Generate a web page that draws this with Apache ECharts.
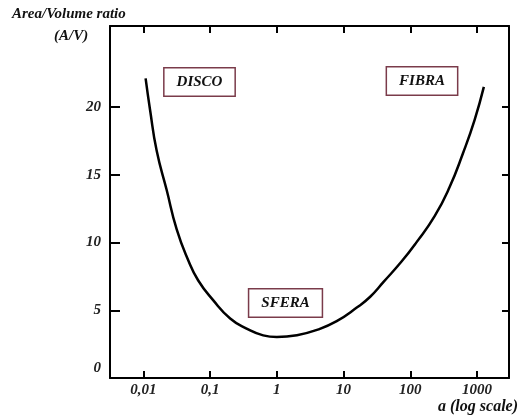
<!DOCTYPE html>
<html>
<head>
<meta charset="utf-8">
<script src="https://cdn.jsdelivr.net/npm/echarts@6/dist/echarts.min.js"></script>
<style>
  html, body { margin: 0; padding: 0; background: #fff; }
  #chart { width: 519px; height: 420px; }
</style>
</head>
<body>
<div id="chart"></div>
<script>
// aspect ratio a (log scale) and the area/volume ratio
const aValues = [0.0108, 0.0126, 0.0158, 0.0223, 0.0315, 0.047, 0.0664, 0.111, 0.2, 0.352, 0.624, 1,
  2.0, 4.0, 7.9, 15.8, 25.1, 39.8, 74, 123, 232, 389, 617, 920, 1268]
const ratioValues = [22.13, 19.8, 16.8, 13.9, 11.0, 8.7, 7.2, 5.75, 4.4, 3.65, 3.15, 3.03,
  3.16, 3.55, 4.2, 5.2, 6.0, 7.1, 8.6, 10.0, 11.95, 14.1, 16.6, 19.05, 21.5]
const xTicks = [0.01, 0.1, 1, 10, 100, 1000]
const xTickLabels = ['0,01', '0,1', '1', '10', '100', '1000']
const yTicks = [0, 5, 10, 15, 20]
const shapeLabels = ['DISCO', 'SFERA', 'FIBRA']

const font = 'Liberation Serif'
const xMin = 0.00316
const xMax = 3020
const chart = echarts.init(document.getElementById('chart'))

const axisLineStyle = { color: '#000', width: 2 }

const yAxisBase = {
  type: 'value',
  min: 0,
  max: 26,
  splitLine: { show: false },
  axisLine: { show: true, onZero: false, lineStyle: axisLineStyle },
  axisTick: { show: true, inside: true, customValues: yTicks.slice(1), lineStyle: axisLineStyle }
}

const boxStyle = {
  font: 'italic bold 15px "' + font + '"',
  fill: '#111',
  align: 'center',
  verticalAlign: 'middle',
  backgroundColor: '#fff',
  borderColor: '#7a3b4a',
  borderWidth: 1.5,
  padding: [6, 12, 6, 12]
}

const option = {
  animation: false,
  backgroundColor: '#fff',
  grid: { left: 110, right: 10, top: 26, bottom: 42 },
  xAxis: [
    {
      type: 'log',
      logBase: 10,
      min: xMin,
      max: xMax,
      position: 'bottom',
      splitLine: { show: false },
      axisLine: { show: true, onZero: false, lineStyle: axisLineStyle },
      axisTick: { show: true, inside: true, length: 7, customValues: xTicks, lineStyle: axisLineStyle },
      axisLabel: {
        customValues: xTicks,
        margin: 5,
        fontFamily: font,
        fontStyle: 'italic',
        fontWeight: 'bold',
        fontSize: 15,
        color: '#222',
        formatter: v => xTickLabels[xTicks.indexOf(v)] ?? ''
      }
    },
    {
      // top frame edge, same decades in log10 units
      type: 'value',
      min: Math.log10(xMin),
      max: Math.log10(xMax),
      position: 'top',
      splitLine: { show: false },
      axisLine: { show: true, onZero: false, lineStyle: axisLineStyle },
      axisTick: { show: true, inside: true, length: 7, customValues: xTicks.map(Math.log10), lineStyle: axisLineStyle },
      axisLabel: { show: false }
    }
  ],
  yAxis: [
    Object.assign({}, yAxisBase, {
      position: 'left',
      axisTick: Object.assign({}, yAxisBase.axisTick, { length: 10 }),
      axisLabel: {
        customValues: yTicks,
        margin: 9,
        fontFamily: font,
        fontStyle: 'italic',
        fontWeight: 'bold',
        fontSize: 15,
        color: '#222',
        formatter: v => (v === 0 ? '{lift|0}' : String(v)),
        rich: { lift: { padding: [0, 0, 20, 0], fontFamily: font, fontStyle: 'italic', fontWeight: 'bold', fontSize: 15, color: '#222' } }
      }
    }),
    Object.assign({}, yAxisBase, {
      position: 'right',
      axisTick: Object.assign({}, yAxisBase.axisTick, { length: 7 }),
      axisLabel: { show: false }
    })
  ],
  series: [{
    type: 'line',
    xAxisIndex: 0,
    yAxisIndex: 0,
    data: aValues.map((a, i) => [a, ratioValues[i]]),
    smooth: 0.5,
    symbol: 'none',
    lineStyle: { color: '#000', width: 2.5 }
  }],
  graphic: [
    { type: 'text', left: 12, top: 7, style: { text: 'Area/Volume ratio', font: 'italic bold 15px "' + font + '"', fill: '#111' } },
    { type: 'text', left: 54, top: 29, style: { text: '(A/V)', font: 'italic bold 15px "' + font + '"', fill: '#111' } },
    { type: 'text', right: 1, top: 399, style: { text: 'a (log scale)', font: 'italic bold 16px "' + font + '"', fill: '#111' } },
    { type: 'text', x: 199.5, y: 82, style: Object.assign({ text: shapeLabels[0] }, boxStyle) },
    { type: 'text', x: 285.5, y: 303, style: Object.assign({ text: shapeLabels[1] }, boxStyle) },
    { type: 'text', x: 422, y: 81, style: Object.assign({ text: shapeLabels[2] }, boxStyle) }
  ]
}

chart.setOption(option)
</script>
</body>
</html>
